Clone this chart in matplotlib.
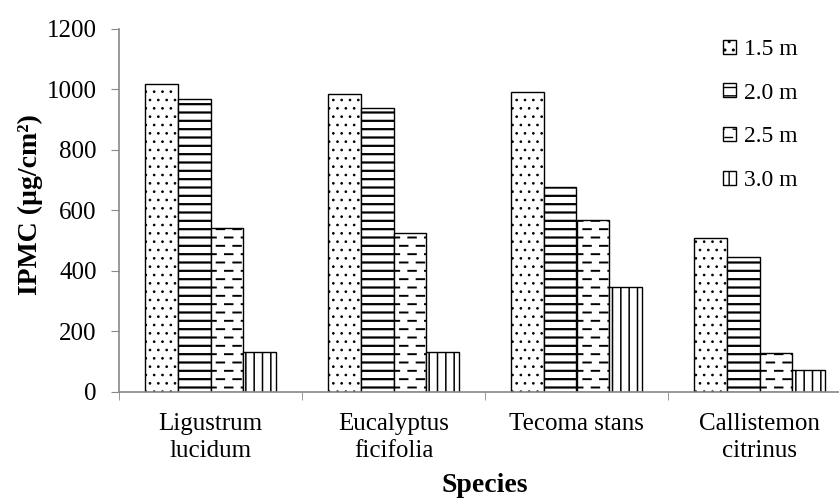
import warnings
import numpy as np
import matplotlib
matplotlib.use("Agg")
import matplotlib.pyplot as plt
import matplotlib.hatch as mhatch
from matplotlib.path import Path

warnings.filterwarnings("ignore")

# ===== data =====
species = ["Ligustrum\nlucidum", "Eucalyptus\nficifolia", "Tecoma stans", "Callistemon\ncitrinus"]
heights = ["1.5 m", "2.0 m", "2.5 m", "3.0 m"]
ipmc_15 = [1018, 985, 992, 509]
ipmc_20 = [970, 939, 676, 446]
ipmc_25 = [542, 524, 567, 127]
ipmc_30 = [132, 130, 346, 73]
hatches = ["..", "--", "__", "||"]
hatch_lw = [0.7, 1.6, 1.4, 1.1]


# 虚线横纹（matplotlib 没有自带）
class DashRows(mhatch.HatchPatternBase):
    def __init__(self, hatch, density):
        self.num_rows = hatch.count("_") * density
        self.num_dash = 6
        self.num_vertices = self.num_rows * (self.num_dash + 1) * 2

    def set_vertices_and_codes(self, vertices, codes):
        step = 1.0 / self.num_rows
        per = 1.0 / self.num_dash
        k = 0
        for r in range(self.num_rows):
            y = (r + 0.5) * step
            off = 0.5 * per if r % 2 else 0.0
            for d in range(self.num_dash + 1):
                x0 = d * per - off
                vertices[k] = (x0, y)
                vertices[k + 1] = (x0 + per * 0.45, y)
                codes[k] = Path.MOVETO
                codes[k + 1] = Path.LINETO
                k += 2


mhatch._hatch_types.append(DashRows)

plt.rcParams["font.family"] = ["Liberation Serif", "DejaVu Serif"]
plt.rcParams["hatch.linewidth"] = 1.3

fig = plt.figure(figsize=(8.39, 4.99), dpi=100)
ax = fig.add_axes([119 / 839, 107.3 / 499, 732 / 839, 362.7 / 499])

x = np.arange(len(species))
w = 0.18
series = [ipmc_15, ipmc_20, ipmc_25, ipmc_30]
for i, vals in enumerate(series):
    plt.rcParams["hatch.linewidth"] = hatch_lw[i]
    bars = ax.bar(x + (i - 1.5) * w, vals, w, color="white", edgecolor="black",
                  linewidth=1.0, hatch=hatches[i], label=heights[i])
    for b in bars:
        if hasattr(b, "set_hatch_linewidth"):
            b.set_hatch_linewidth(hatch_lw[i])
plt.rcParams["hatch.linewidth"] = 1.0

ax.set_xlim(-0.5, 3.5)
ax.set_ylim(0, 1200)
ax.set_yticks(range(0, 1201, 200))
ax.set_xticks(x)
ax.set_xticklabels(species, fontsize=18, linespacing=1.3)
ax.set_xticks(np.arange(-0.5, 3.6, 1.0), minor=True)
ax.tick_params(axis="x", which="major", length=0, pad=15)
ax.tick_params(axis="x", which="minor", length=6, color="#888888")
ax.tick_params(axis="y", labelsize=18, length=6, color="#888888", pad=10)

for s in ["top", "right"]:
    ax.spines[s].set_visible(False)
for s in ["left", "bottom"]:
    ax.spines[s].set_color("#888888")
    ax.spines[s].set_linewidth(1.2)

ax.set_ylabel("IPMC (µg/cm²)", fontsize=20, fontweight="bold", va="center")
ax.yaxis.set_label_coords((30 - 119) / 732, 0.515)
ax.set_xlabel("Species", fontsize=20, fontweight="bold", va="center")
ax.xaxis.set_label_coords(0.5, -(486 - 391.7) / 362.7)

ax.legend(loc="upper left", bbox_to_anchor=(723 / 839, 1 - 39 / 499),
          bbox_transform=fig.transFigure, frameon=False, fontsize=17,
          handlelength=0.55, handleheight=0.55, handletextpad=0.33,
          labelspacing=0.96, borderpad=0, borderaxespad=0)

fig.savefig("out.png", dpi=100)
